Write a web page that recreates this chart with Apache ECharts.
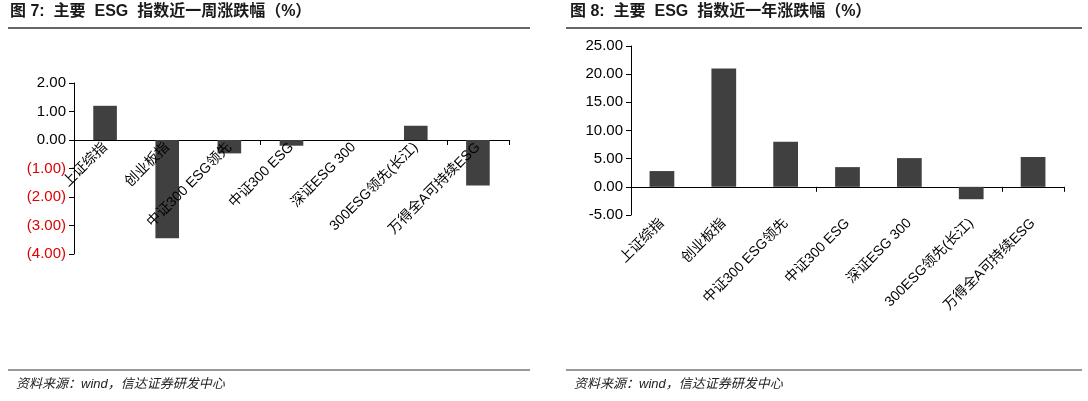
<!DOCTYPE html>
<html><head><meta charset="utf-8">
<script src="https://cdn.jsdelivr.net/npm/echarts@6/dist/echarts.min.js"></script>
<style>body{margin:0;background:#fff}#c{width:1088px;height:401px}</style>
</head><body><div id="c"></div>
<script>
const categories = ['上证综指','创业板指','中证300 ESG领先','中证300 ESG','深证ESG 300','300ESG领先(长江)','万得全A可持续ESG'];
const weekValues = [1.2, -3.45, -0.47, -0.2, 0, 0.5, -1.6];
const yearValues = [2.8, 21.0, 8.0, 3.5, 5.1, -2.2, 5.3];
const title1 = '图 7:  主要  ESG  指数近一周涨跌幅（%）';
const title2 = '图 8:  主要  ESG  指数近一年涨跌幅（%）';
const source = '资料来源：wind，信达证券研发中心';

const font = '"Liberation Sans","Noto Sans CJK SC",sans-serif';
const lab = {fontFamily:font, fontSize:14, color:'#000', rotate:45, interval:0, margin:6};
const chart = echarts.init(document.getElementById('c'));
chart.setOption({
  animation:false,
  graphic:[
    {type:'text',left:10,top:4,style:{text:title1,font:'bold 16px '+font,fill:'#1a1a1a'}},
    {type:'text',left:570,top:4,style:{text:title2,font:'bold 16px '+font,fill:'#1a1a1a'}},
    {type:'line',shape:{x1:8,y1:28,x2:530,y2:28},style:{stroke:'#333',lineWidth:1.5}},
    {type:'line',shape:{x1:566,y1:28,x2:1082,y2:28},style:{stroke:'#333',lineWidth:1.5}},
    {type:'line',shape:{x1:8,y1:370,x2:530,y2:370},style:{stroke:'#333',lineWidth:1}},
    {type:'line',shape:{x1:566,y1:370,x2:1082,y2:370},style:{stroke:'#333',lineWidth:1}},
    {type:'text',left:16,top:378,style:{text:source,font:'italic 13px '+font,fill:'#222'}},
    {type:'text',left:574,top:378,style:{text:source,font:'italic 13px '+font,fill:'#222'}}
  ],
  grid:[
    {left:74,right:579,top:83,bottom:147},
    {left:631,right:24,top:46,bottom:186}
  ],
  xAxis:[
    {type:'category',gridIndex:0,data:categories,axisLine:{onZero:true,lineStyle:{color:'#000'}},axisTick:{show:true,lineStyle:{color:'#000'}},axisLabel:{show:false}},
    {type:'category',gridIndex:0,data:categories,position:'bottom',offset:-115,axisLine:{show:false,onZero:false},axisTick:{show:false},axisLabel:lab,z:10},
    {type:'category',gridIndex:1,data:categories,axisLine:{onZero:true,lineStyle:{color:'#000'}},axisTick:{show:true,lineStyle:{color:'#000'}},axisLabel:{show:false}},
    {type:'category',gridIndex:1,data:categories,position:'bottom',axisLine:{show:false,onZero:false},axisTick:{show:false},axisLabel:lab}
  ],
  yAxis:[
    {type:'value',gridIndex:0,min:-4,max:2,interval:1,splitLine:{show:false},
     axisLine:{show:true,lineStyle:{color:'#000'}},axisTick:{show:true},
     axisLabel:{fontFamily:font,fontSize:15,formatter:v=>v<0?'('+Math.abs(v).toFixed(2)+')':v.toFixed(2),
       color:v=>v<0?'#e00000':'#000'}},
    {type:'value',gridIndex:1,min:-5,max:25,interval:5,splitLine:{show:false},
     axisLine:{show:true,lineStyle:{color:'#000'}},axisTick:{show:true},
     axisLabel:{fontFamily:font,fontSize:15,color:'#000',formatter:v=>v.toFixed(2)}}
  ],
  series:[
    {type:'bar',xAxisIndex:0,yAxisIndex:0,data:weekValues,barWidth:'38%',itemStyle:{color:'#404040'}},
    {type:'bar',xAxisIndex:2,yAxisIndex:1,data:yearValues,barWidth:'40%',itemStyle:{color:'#404040'}}
  ]
});
</script></body></html>
